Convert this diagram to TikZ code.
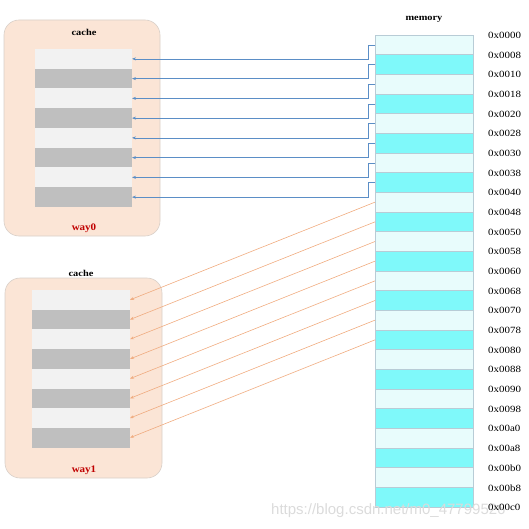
\documentclass[tikz,border=0pt]{standalone}
\usepackage{fontspec}
\setmainfont{Liberation Serif}
\newfontfamily\wmfont{Liberation Sans}
\usetikzlibrary{arrows.meta}
\definecolor{memlight}{HTML}{E8FCFC}
\definecolor{memcyan}{HTML}{7FF9FA}
\definecolor{memedge}{HTML}{B8CCD6}
\definecolor{cachebg}{HTML}{FBE5D6}
\definecolor{cacheedge}{HTML}{D8CFC8}
\definecolor{rowlight}{HTML}{F2F2F2}
\definecolor{rowdark}{HTML}{BFBFBF}
\definecolor{linkblue}{HTML}{5B8EC6}
\definecolor{linkorange}{HTML}{F0AC80}
\definecolor{wayred}{HTML}{C00000}
\tikzset{
  memrow/.style={draw=memedge, line width=0.6pt, minimum width=98pt, minimum height=19.667pt, inner sep=0pt, outer sep=0pt},
  cacherow/.style={draw=none, minimum width=97pt, minimum height=19.75pt, inner sep=0pt, outer sep=0pt},
  cachebox/.style={draw=cacheedge, line width=0.6pt, fill=cachebg, rounded corners=15pt, inner sep=0pt},
  title/.style={font=\bfseries\fontsize{9}{10}\selectfont, xscale=1.15, inner sep=0pt},
  waylabel/.style={font=\bfseries\fontsize{10}{11}\selectfont, text=wayred, xscale=1.1, inner sep=0pt},
  addr/.style={font=\fontsize{9.5}{10}\selectfont, xscale=1.15, anchor=west, inner sep=0pt},
  bluelink/.style={draw=linkblue, line width=0.6pt, -{Stealth[length=4pt,width=3pt]}},
  orangelink/.style={draw=linkorange, line width=0.6pt, -{Stealth[length=4pt,width=3pt]}}
}
\begin{document}
\begin{tikzpicture}[x=1pt,y=-1pt]
\useasboundingbox (0,0) rectangle (529,529);
% cache boxes
\node[cachebox, minimum width=156pt, minimum height=216pt] (box0) at (82,128) {};
\node[cachebox, minimum width=157pt, minimum height=200pt] (box1) at (83.5,378) {};
\node[title] (cachet0) at (84,32) {cache};
\node[title] (cachet1) at (81,273) {cache};
\node[waylabel] (way0) at (84,228) {way0};
\node[waylabel] (way1) at (84,470) {way1};
% cache rows
\foreach \k in {0,...,7}{
  \pgfmathsetmacro{\yy}{58.875+19.75*\k}
  \pgfmathsetmacro{\yb}{299.85+19.7*\k}
  \ifodd\k
    \node[cacherow, fill=rowdark] (ca\k) at (83.5,\yy) {};
    \node[cacherow, fill=rowdark, minimum height=19.7pt, minimum width=98pt] (cb\k) at (81,\yb) {};
  \else
    \node[cacherow, fill=rowlight] (ca\k) at (83.5,\yy) {};
    \node[cacherow, fill=rowlight, minimum height=19.7pt, minimum width=98pt] (cb\k) at (81,\yb) {};
  \fi
}
% memory
\node[title] (memt) at (424,19) {memory};
\foreach \i in {0,...,23}{
  \pgfmathsetmacro{\ym}{44.83+19.667*\i}
  \ifodd\i
    \node[memrow, fill=memcyan] (m\i) at (424,\ym) {};
  \else
    \node[memrow, fill=memlight] (m\i) at (424,\ym) {};
  \fi
}
% watermark
\node[font=\wmfont\fontsize{15}{16}\selectfont, text=black!14, anchor=west, inner sep=0pt] (wm) at (271,511) {https://blog.csdn.net/m0\_47799526};
% addresses
\foreach \a [count=\n from 0] in {0000,0008,0010,0018,0020,0028,0030,0038,0040,0048,0050,0058,0060,0068,0070,0078,0080,0088,0090,0098,00a0,00a8,00b0,00b8,00c0}{
  \pgfmathsetmacro{\ya}{35.5+19.667*\n}
  \node[addr] (ad\n) at (488,\ya) {0x\a};
}
% links way0
\foreach \k in {0,...,7}{
  \draw[bluelink] (m\k.west) -- ++(-7,0) |- (ca\k.east);
}
% links way1
\foreach \k in {0,...,7}{
  \pgfmathtruncatemacro{\j}{\k+8}
  \draw[orangelink] (m\j.west) -- (cb\k.east);
}
\end{tikzpicture}
\end{document}
